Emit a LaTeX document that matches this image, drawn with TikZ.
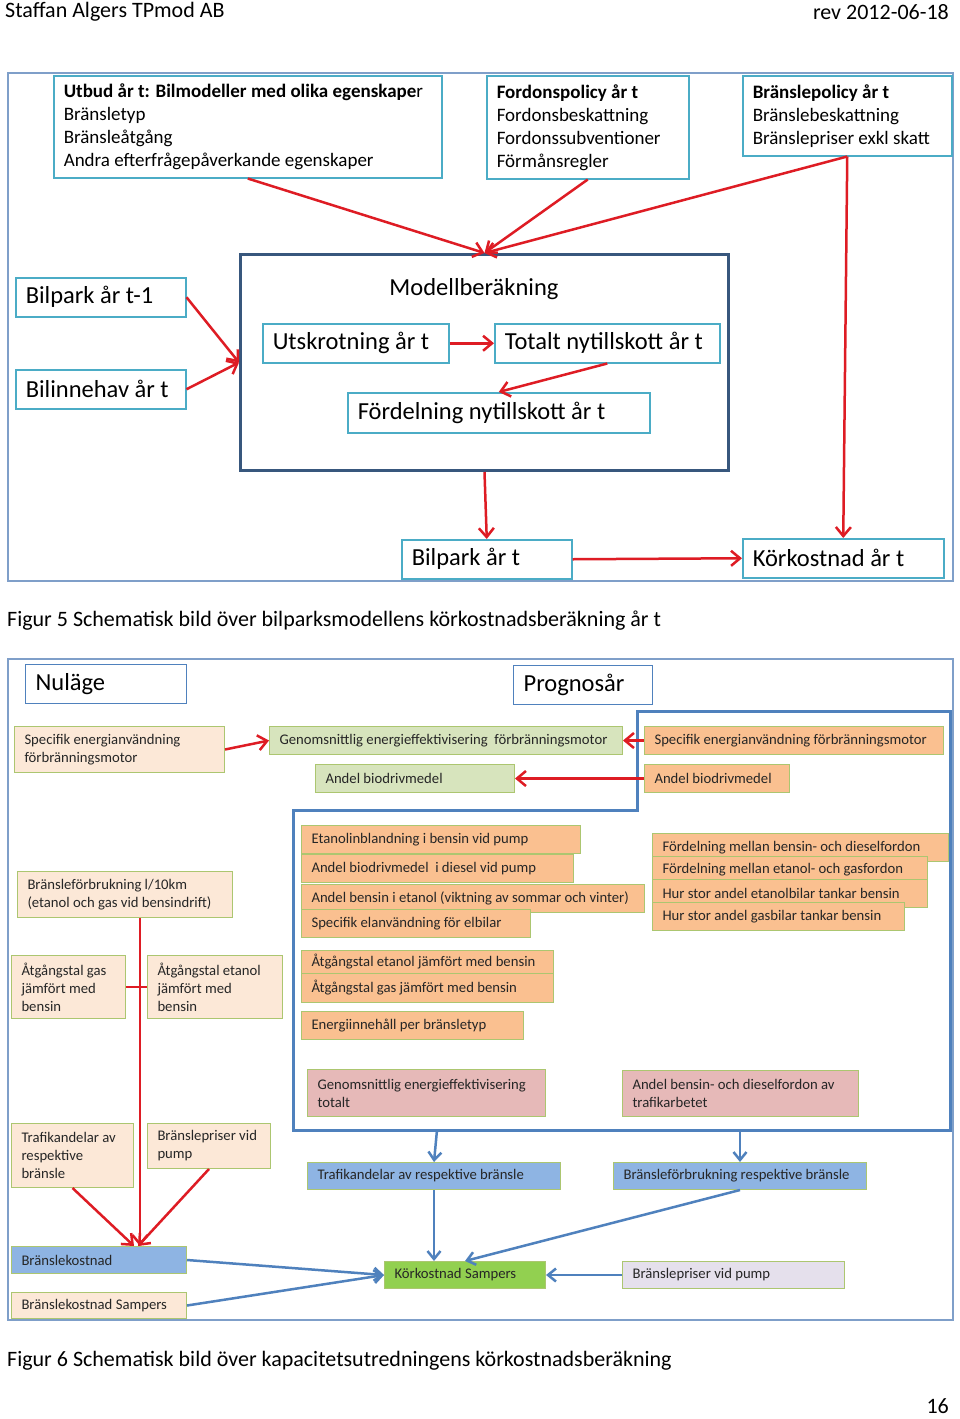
\documentclass[tikz,border=0pt]{standalone}
\usepackage{fontspec}
\setmainfont{Carlito}
\usetikzlibrary{arrows.meta}
\definecolor{ramblue}{RGB}{127,159,201}
\definecolor{boxteal}{RGB}{75,172,198}
\definecolor{modellblue}{RGB}{56,87,125}
\definecolor{pilred}{RGB}{222,28,36}
\definecolor{pilblue}{RGB}{79,129,189}
\definecolor{kantgreen}{RGB}{172,198,112}
\definecolor{peach}{RGB}{252,232,215}
\definecolor{ljusgron}{RGB}{215,228,189}
\definecolor{orangefyll}{RGB}{250,192,144}
\definecolor{rosa}{RGB}{230,185,184}
\definecolor{blafyll}{RGB}{142,180,227}
\definecolor{gronfyll}{RGB}{146,208,80}
\definecolor{lila}{RGB}{229,224,236}

\tikzset{
  ram/.style={draw=ramblue, line width=1.5pt},
  box/.style={draw=boxteal, line width=1.5pt, fill=white, anchor=north west,
    inner xsep=10pt, inner ysep=0pt, align=flush left, font=\fontsize{19}{23}\selectfont},
  storbox/.style={box, font=\fontsize{24.5}{28}\selectfont},
  ruta/.style={draw=kantgreen, line width=1pt, anchor=north west, inner xsep=10pt,
    inner ysep=0pt, align=flush left, text=black!85, font=\fontsize{14.7}{18}\selectfont},
  rubrik/.style={draw=pilblue, line width=1.2pt, fill=white, anchor=north west,
    inner xsep=10pt, inner ysep=0pt, align=flush left, font=\fontsize{24.5}{28}\selectfont},
  rodpil/.style={draw=pilred, line width=2.5pt, -{Straight Barb[length=9pt,width=15pt]}},
  blapil/.style={draw=pilblue, line width=2.5pt, -{Straight Barb[length=8pt,width=13pt]}},
  text22/.style={font=\fontsize{22}{26}\selectfont, inner sep=0pt}
}

\begin{document}
\begin{tikzpicture}[x=1pt,y=-1pt]
\useasboundingbox[fill=white] (0,0) rectangle (960,1419);

% sidhuvud
\node[text22, anchor=west] (huvudV) at (5,12) {Staffan Algers TPmod AB};
\node[text22, anchor=east] (huvudH) at (949,12) {rev 2012-06-18};

% figur 5
\draw[ram] (8,73) rectangle (953,581);
\node[box, text width=368pt, minimum height=102pt] (utbud) at (53,75)
  {\textbf{Utbud år t: Bilmodeller med olika egenskape}r\\Bränsletyp\\Bränsleåtgång\\Andra efterfrågepåverkande egenskaper};
\node[box, text width=182pt, minimum height=103pt] (fpol) at (486,75)
  {\textbf{Fordonspolicy år t}\\Fordonsbeskattning\\Fordonssubventioner\\Förmånsregler};
\node[box, text width=189pt, minimum height=80pt] (bpol) at (742,75)
  {\textbf{Bränslepolicy år t}\\Bränslebeskattning\\Bränslepriser exkl skatt};
\node[draw=modellblue, line width=3pt, anchor=north west, minimum width=488pt,
  minimum height=216pt] (modell) at (239,253) {};
\node[font=\fontsize{24.5}{28}\selectfont] (modelltxt) at (474,289) {Modellberäkning};
\node[storbox, text width=150pt, minimum height=39pt] (bp1) at (15,277) {Bilpark år t-1};
\node[storbox, text width=150pt, minimum height=39pt] (binh) at (15,369) {Bilinnehav år t};
\node[storbox, text width=166pt, minimum height=39pt] (utsk) at (262,323) {Utskrotning år t};
\node[storbox, text width=205pt, minimum height=39pt] (totalt) at (494,323) {Totalt nytillskott år t};
\node[storbox, text width=282pt, minimum height=40pt] (ford) at (347,392) {Fördelning nytillskott år t};
\node[storbox, text width=150pt, minimum height=39pt] (bpt) at (401,539) {Bilpark år t};
\node[storbox, text width=181pt, minimum height=39pt] (kork5) at (742,538) {Körkostnad år t};

\draw[rodpil] (utbud.south) -- (modell.north);
\draw[rodpil] (fpol.south) -- (modell.north);
\draw[rodpil] (bpol.south) -- (modell.north);
\draw[rodpil] (bpol.south) -- (kork5.north);
\draw[rodpil] (bp1.east) -- (modell.west);
\draw[rodpil] (binh.east) -- (modell.west);
\draw[rodpil] (utsk.east) -- (totalt.west);
\draw[rodpil] (totalt.south) -- (ford.north);
\draw[rodpil] (modell.south) -- (bpt.north);
\draw[rodpil] (bpt.east) -- (kork5.west);

\node[text22, anchor=west] (fig5) at (7,621)
  {Figur 5 Schematisk bild över bilparksmodellens körkostnadsberäkning år t};

% figur 6
\draw[ram] (8,659) rectangle (953,1320);
\draw[pilblue, line width=3pt] (637,711) -- (950,711) -- (950,1130) -- (293,1130)
  -- (293,810) -- (637,810) -- cycle;
\coordinate (ramA) at (437,1130);
\coordinate (ramB) at (740,1130);

\node[rubrik, text width=141pt, minimum height=39pt] (nul) at (25,664) {Nuläge};
\node[rubrik, text width=119pt, minimum height=39pt] (prog) at (513,665) {Prognosår};

\node[ruta, fill=peach, text width=190pt, minimum height=46pt] (specL) at (14,726)
  {Specifik energianvändning\\förbränningsmotor};
\node[ruta, fill=ljusgron, text width=333pt, minimum height=28pt] (genF) at (269,726)
  {Genomsnittlig energieffektivisering\ \ förbränningsmotor};
\node[ruta, fill=ljusgron, text width=179pt, minimum height=28pt] (andL) at (315,764) {Andel biodrivmedel};
\node[ruta, fill=orangefyll, text width=279pt, minimum height=28pt] (specR) at (644,726)
  {Specifik energianvändning förbränningsmotor};
\node[ruta, fill=orangefyll, text width=125pt, minimum height=28pt] (andR) at (644,764) {Andel biodrivmedel};

\node[ruta, fill=orangefyll, text width=259pt, minimum height=28pt] (etan) at (301,825)
  {Etanolinblandning i bensin vid pump};
\node[ruta, fill=orangefyll, text width=252pt, minimum height=28pt] (bdies) at (301,854)
  {Andel biodrivmedel\ \ i diesel vid pump};
\node[ruta, fill=orangefyll, text width=323pt, minimum height=28pt] (bet) at (301,884)
  {Andel bensin i etanol (viktning av sommar och vinter)};
\node[ruta, fill=orangefyll, text width=209pt, minimum height=28pt] (spel) at (301,909)
  {Specifik elanvändning för elbilar};
\node[ruta, fill=orangefyll, text width=232pt, minimum height=23pt] (atet) at (301,950)
  {Åtgångstal etanol jämfört med bensin};
\node[ruta, fill=orangefyll, text width=232pt, minimum height=29pt] (atgs) at (301,973)
  {Åtgångstal gas jämfört med bensin};
\node[ruta, fill=orangefyll, text width=202pt, minimum height=28pt] (energ) at (301,1011)
  {Energiinnehåll per bränsletyp};

\node[ruta, fill=orangefyll, text width=276pt, minimum height=28pt] (fbd) at (652,833)
  {Fördelning mellan bensin- och dieselfordon};
\node[ruta, fill=orangefyll, text width=255pt, minimum height=27pt] (feg) at (652,856)
  {Fördelning mellan etanol- och gasfordon};
\node[ruta, fill=orangefyll, text width=255pt, minimum height=28pt] (hetb) at (652,879)
  {Hur stor andel etanolbilar tankar bensin};
\node[ruta, fill=orangefyll, text width=232pt, minimum height=28pt] (hgas) at (652,902)
  {Hur stor andel gasbilar tankar bensin};

\node[ruta, fill=peach, text width=195pt, minimum height=46pt] (bfl10) at (17,871)
  {Bränsleförbrukning l/10km\\(etanol och gas vid bensindrift)};
\node[ruta, fill=peach, text width=94pt, minimum height=63pt] (atgas) at (11,955)
  {Åtgångstal gas\\jämfört med\\bensin};
\node[ruta, fill=peach, text width=115pt, minimum height=63pt] (atetl) at (147,955)
  {Åtgångstal etanol\\jämfört med\\bensin};
\node[ruta, fill=peach, text width=102pt, minimum height=64pt] (trafP) at (11,1123)
  {Trafikandelar av\\respektive\\bränsle};
\node[ruta, fill=peach, text width=103pt, minimum height=45pt] (prisP) at (147,1123)
  {Bränslepriser vid\\pump};
\node[ruta, fill=blafyll, text width=155pt, minimum height=27pt] (bkost) at (11,1246) {Bränslekostnad};
\node[ruta, fill=peach, text width=155pt, minimum height=26pt] (bksamp) at (11,1292) {Bränslekostnad Sampers};

\node[ruta, fill=rosa, text width=218pt, minimum height=47pt] (genT) at (307,1069)
  {Genomsnittlig energieffektivisering\\totalt};
\node[ruta, fill=rosa, text width=216pt, minimum height=46pt] (andBD) at (622,1070)
  {Andel bensin- och dieselfordon av\\trafikarbetet};
\node[ruta, fill=blafyll, text width=233pt, minimum height=27pt] (trafB) at (307,1162)
  {Trafikandelar av respektive bränsle};
\node[ruta, fill=blafyll, text width=233pt, minimum height=27pt] (bfB) at (613,1162)
  {Bränsleförbrukning respektive bränsle};
\node[ruta, fill=gronfyll, text width=141pt, minimum height=27pt] (kork) at (384,1261) {Körkostnad Sampers};
\node[ruta, fill=lila, text width=202pt, minimum height=27pt] (prisB) at (622,1261) {Bränslepriser vid pump};

\draw[rodpil] (specL.east) -- (genF.west);
\draw[rodpil] (specR.west) -- (genF.east);
\draw[rodpil] (andR.west) -- (andL.east);
\draw[rodpil] ([xshift=15pt]bfl10.south) -- ([xshift=15pt]bfl10.south |- bkost.north);
\draw[pilred, line width=2.5pt] (atgas.east) -- (atetl.west);
\draw[rodpil] (trafP.south) -- ([xshift=35pt]bkost.north);
\draw[rodpil] (prisP.south) -- ([xshift=39pt]bkost.north);

\draw[blapil] (ramA) -- (trafB.north);
\draw[blapil] (ramB) -- (bfB.north);
\draw[blapil] (trafB.south) -- (trafB.south |- kork.north);
\draw[blapil] (bfB.south) -- (kork.north);
\draw[blapil] (bkost.east) -- (kork.west);
\draw[blapil] (bksamp.east) -- (kork.west);
\draw[blapil] (prisB.west) -- (kork.east);

\node[text22, anchor=west] (fig6) at (7,1361)
  {Figur 6 Schematisk bild över kapacitetsutredningens körkostnadsberäkning};
\node[text22, anchor=east] (sidnr) at (949,1406) {16};
\end{tikzpicture}
\end{document}
